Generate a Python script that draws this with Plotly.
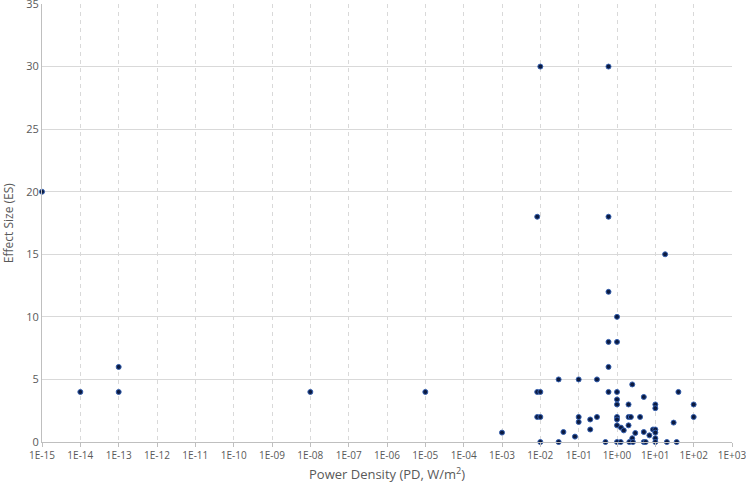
import plotly.graph_objects as go

# power density (W/m2) and effect size
power_density = [
    1e-15, 1e-14, 1e-13, 1e-13, 1e-8, 1e-5, 1e-3,
    0.0083, 0.0083, 0.0083, 0.01, 0.01, 0.01, 0.01,
    0.03, 0.03, 0.04, 0.08, 0.1, 0.1, 0.1, 0.2, 0.2, 0.3, 0.3, 0.5,
    0.6, 0.6, 0.6, 0.6, 0.6, 0.6,
    1, 1, 1, 1, 1, 1, 1, 1, 1, 1.27, 1.25, 1.5,
    2, 2, 2.3, 2, 2.1, 2.5, 2.5, 2.6, 3, 4, 5, 5, 5, 5.6, 7, 8.7,
    10, 10, 10, 10, 10, 10, 18, 20, 30, 40, 36, 100, 100,
]
effect_size = [
    20, 4, 6, 4, 4, 4, 0.75,
    18, 4, 2, 30, 4, 2, 0,
    5, 0, 0.8, 0.43, 2, 1.6, 5, 1.8, 1, 5, 2, 0,
    30, 18, 12, 8, 6, 4,
    10, 8, 4, 3.4, 3, 2, 1.8, 1.33, 0, 1.15, 0, 0.93,
    3, 2, 2, 1.33, 0, 4.6, 0.3, 0, 0.72, 2, 3.6, 0.8, 0, 0, 0.53, 1,
    1, 0.75, 0.3, 0, 3, 2.7, 15, 0, 1.55, 4, 0, 3, 2,
]

decades = list(range(-15, 4))
tick_vals = [10.0 ** d for d in decades]
tick_text = ["1E-%02d" % -d if d < 0 else "1E+%02d" % d for d in decades]
y_ticks = [0, 5, 10, 15, 20, 25, 30, 35]

grey = '#595959'

fig = go.Figure(go.Scatter(
    x=power_density, y=effect_size,
    mode='markers',
    marker=dict(size=5, color='#0b1a40', line=dict(width=1, color='#3560b0')),
    cliponaxis=False,
))

fig.update_layout(
    template='none',
    width=746, height=482,
    showlegend=False,
    paper_bgcolor='white',
    plot_bgcolor='white',
    font=dict(family='Open Sans', color=grey, size=10),
    margin=dict(l=42, r=14, t=4, b=40),
    xaxis=dict(
        type='log', range=[-15, 3],
        tickvals=tick_vals, ticktext=tick_text,
        tickfont=dict(color=grey, size=10),
        ticklabeloverflow='allow',
        showgrid=True, gridcolor='#d9d9d9', griddash='4px,4px', gridwidth=1,
        showline=True, linecolor='#bfbfbf', linewidth=1,
        ticks='outside', ticklen=4, tickcolor='#bfbfbf',
        zeroline=False, automargin=False,
    ),
    yaxis=dict(
        range=[0, 35], tickvals=y_ticks,
        tickfont=dict(color=grey, size=11),
        ticklabeloverflow='allow',
        showgrid=True, gridcolor='#d9d9d9', gridwidth=1,
        showline=True, linecolor='#bfbfbf', linewidth=1,
        zeroline=False, ticks='', automargin=False,
    ),
    annotations=[
        dict(text='Power Density (PD, W/m<sup>2</sup>)', xref='paper', yref='paper',
             x=0.5, y=-0.071, yanchor='middle', showarrow=False,
             font=dict(size=13, color=grey)),
        dict(text='Effect Size (ES)', xref='paper', yref='paper',
             x=-0.049, y=0.5, xanchor='center', yanchor='middle',
             textangle=-90, showarrow=False,
             font=dict(size=12, color=grey)),
    ],
)

# drop the browser's default body margin so the figure sits at the window corner
fig.write_html("out.html", config={'displayModeBar': False},
               post_script="document.body.style.margin='0px';")
